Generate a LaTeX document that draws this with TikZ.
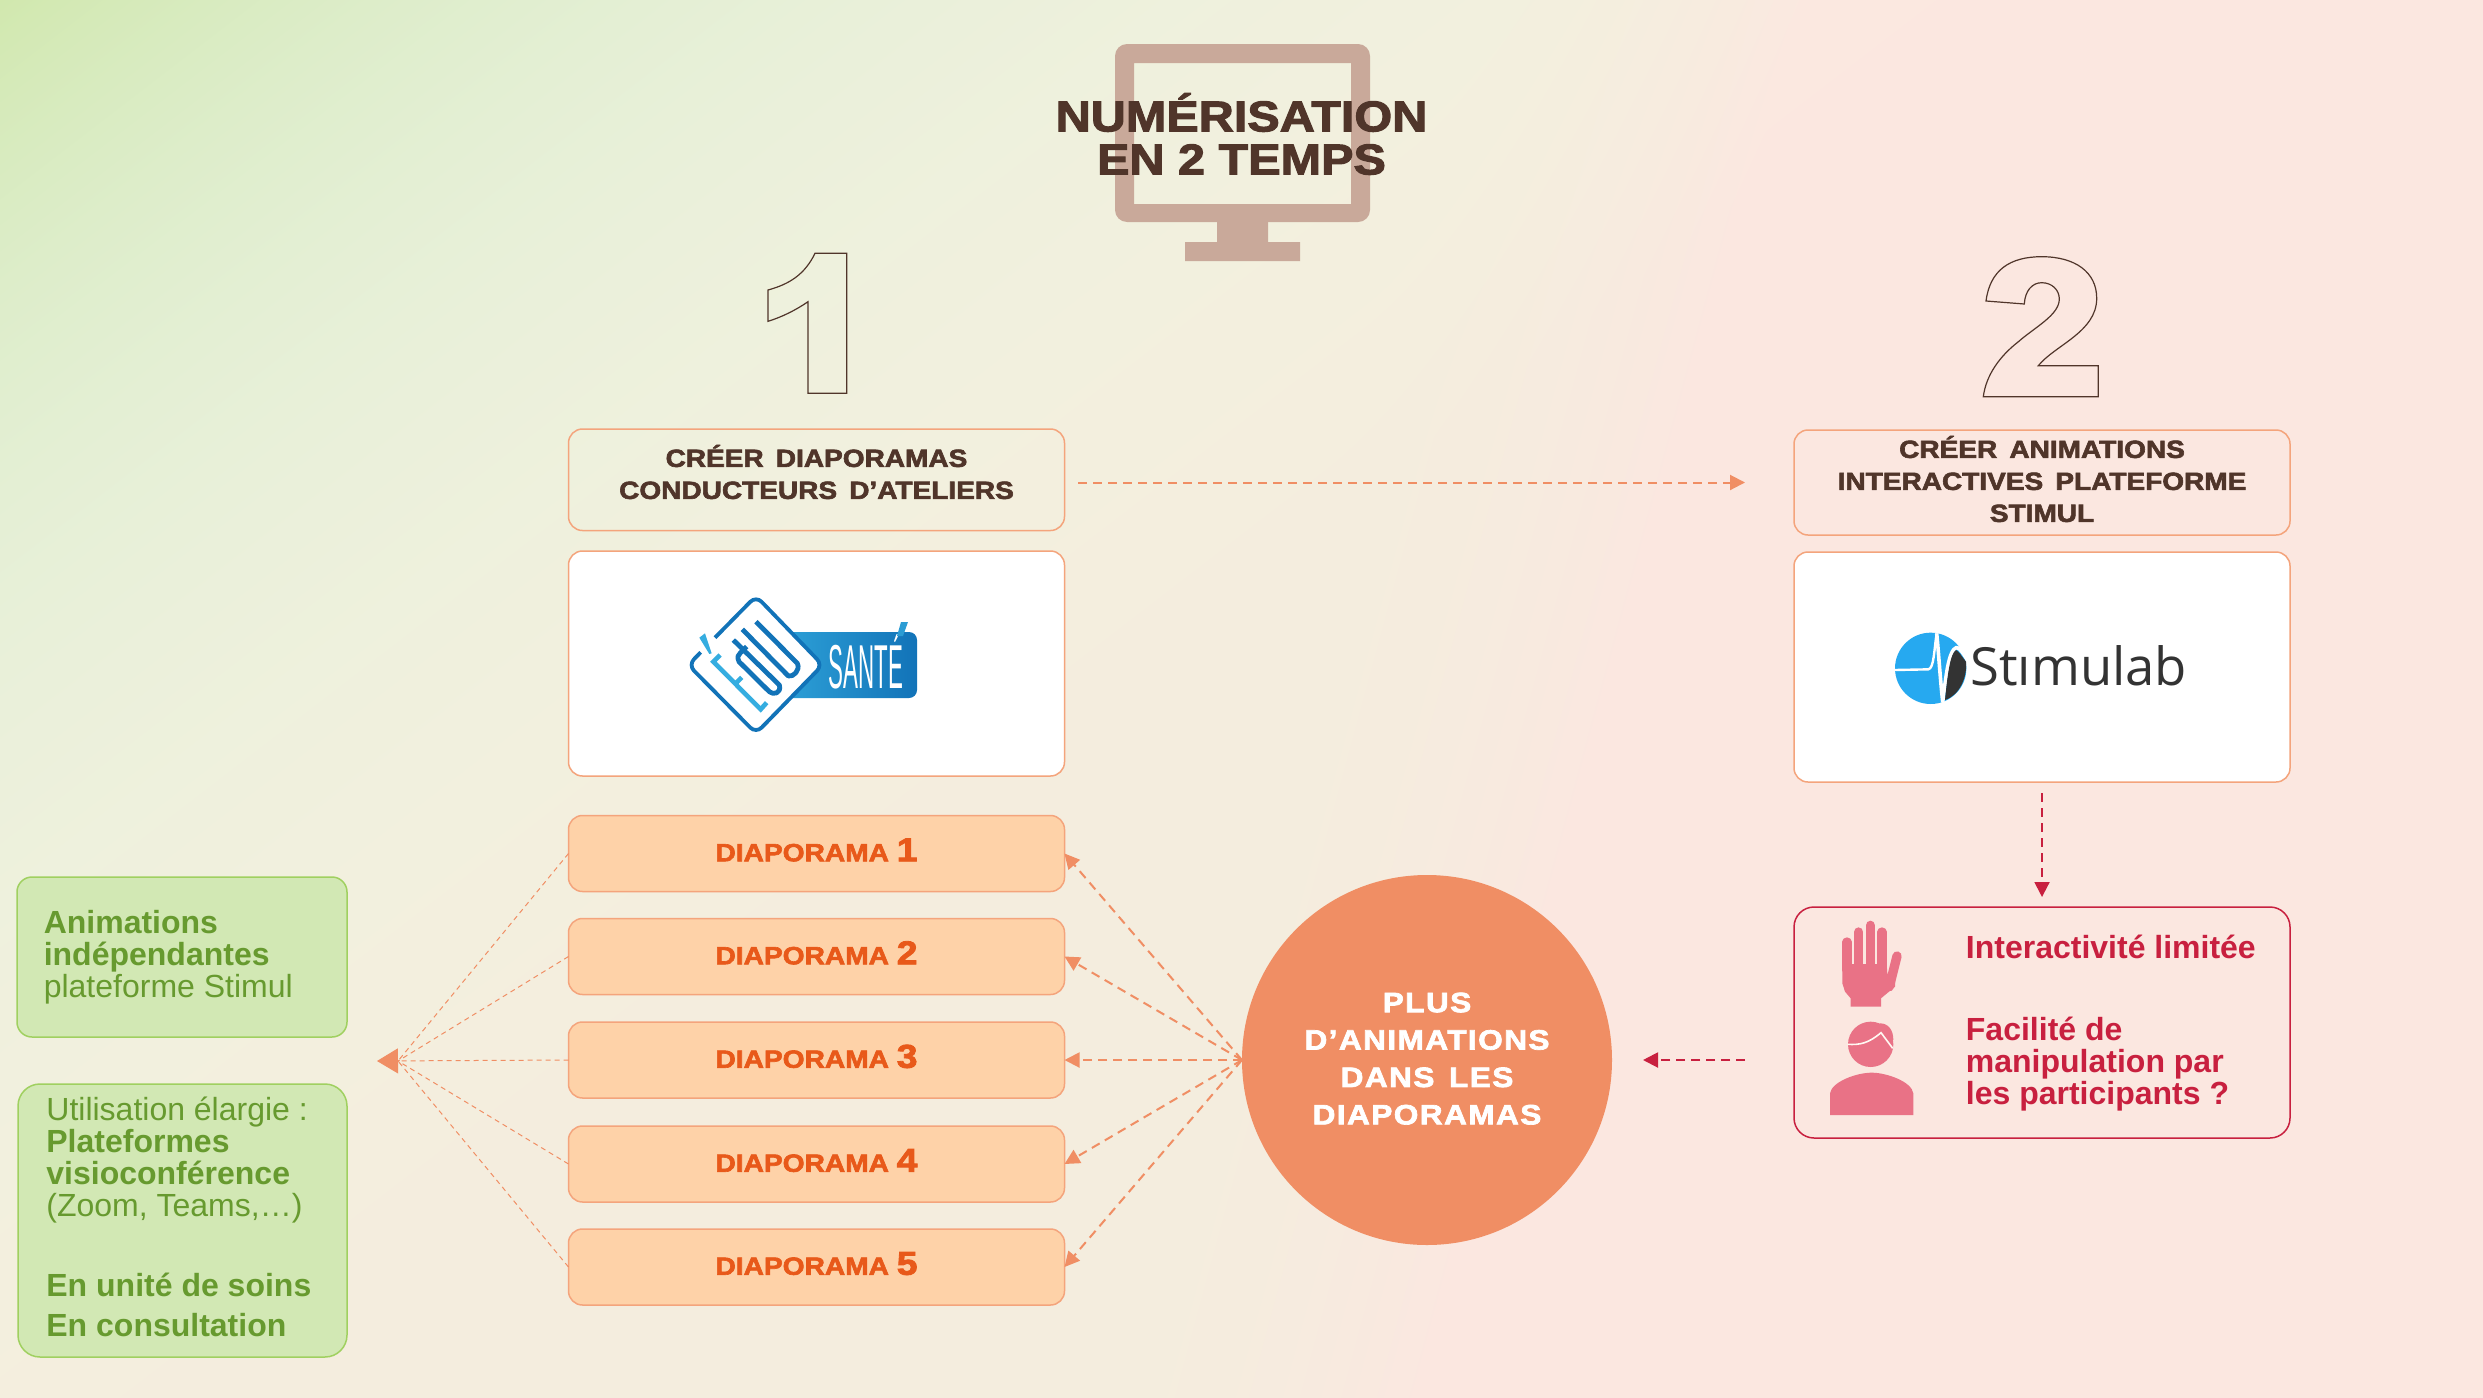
\documentclass[tikz,border=0pt]{standalone}
\usepackage{fontspec}
\setmainfont{Liberation Sans}
\newfontfamily\blk[FakeStretch=1.13,FakeBold=2.5]{Liberation Sans Bold}
\newfontfamily\blkS[FakeStretch=1.13,FakeBold=2.5,LetterSpace=5]{Liberation Sans Bold}
\newfontfamily\oss{Open Sans}
\usetikzlibrary{arrows.meta}
\definecolor{brownT}{HTML}{50352A}
\definecolor{monC}{HTML}{C9A99A}
\definecolor{orL}{HTML}{F4A47C}
\definecolor{orF}{HTML}{FED2A8}
\definecolor{orT}{HTML}{E8591A}
\definecolor{circC}{HTML}{F08E64}
\definecolor{redC}{HTML}{C8203F}
\definecolor{iconC}{HTML}{E97286}
\definecolor{grF}{HTML}{D2E8B4}
\definecolor{grL}{HTML}{A0D060}
\definecolor{grT}{HTML}{679A2F}
\definecolor{edu}{HTML}{1273B8}
\definecolor{eduC}{HTML}{35ADE0}
\definecolor{stiB}{HTML}{26A9F0}
\definecolor{stiD}{HTML}{333333}
\pgfdeclarefunctionalshading{bgshade}{\pgfpointorigin}{\pgfpoint{1241.5pt}{698.5pt}}{}{
1397 exch 2.00679 mul sub
exch 2.00679 mul exch
2 copy 1.3 mul add
3 1 roll 0.27 mul add
1450 sub 350 div dup 0 lt {pop 0} if dup 1 gt {pop 1} if dup mul
exch 2000 div 1 exch sub dup 0 lt {pop 0} if
1 index 7 mul 244 add
1 index dup mul 35 mul sub
3 1 roll
1 index 6 mul neg 237 add
1 index dup 1 exch sub mul 16 mul add
1 index dup dup mul mul 5 mul sub
3 1 roll
dup mul dup mul 48 mul neg
exch 2 mul add 222 add
255 div
3 1 roll
255 div exch 255 div exch
3 -1 roll
}
\tikzset{
  boxbase/.style={draw=orL,line width=.75pt,rounded corners=7pt,outer sep=0pt,inner sep=0pt,minimum width=248pt},
  whitebox/.style={boxbase,fill=white},
  diabox/.style={boxbase,fill=orF,minimum height=38pt,text=orT,text height=8.75pt,text depth=1pt,font=\blk\fontsize{12.45}{13}\selectfont},
  greenbox/.style={draw=grL,line width=.75pt,fill=grF,outer sep=0pt,inner sep=0pt},
  headtext/.style={text=brownT,align=center,inner sep=0pt,font=\blk\fontsize{12.4}{16}\selectfont},
  greentext/.style={text=grT,align=left,inner sep=0pt,anchor=north west,font=\fontsize{16}{16}\selectfont},
  redtext/.style={text=redC,align=left,inner sep=0pt,font=\bfseries\fontsize{16}{16}\selectfont},
  digitline/.style={draw=brownT,line width=.6pt,line join=miter},
  orarrow/.style={draw=circC,line width=1pt,dash pattern=on 4.5pt off 3pt,-{Triangle[length=7.5pt,width=7.5pt]}},
  redarrow/.style={draw=redC,line width=1pt,dash pattern=on 4.5pt off 3pt,-{Triangle[length=7.5pt,width=7.5pt]}},
  fanline/.style={draw=circC,line width=.5pt,dash pattern=on 2.5pt off 2pt},
}
\newcommand\dianum[1]{{\fontsize{16.5}{16.5}\selectfont #1}}
\newcommand\wsp{\hspace{2.2pt} }
\begin{document}
\begin{tikzpicture}[x=.5pt,y=-.5pt]
\useasboundingbox (0,0) rectangle (2483,1397);
\node[inner sep=0pt,outer sep=0pt,anchor=north west] (bg) at (0,0) {\pgfuseshading{bgshade}};

% monitor
\fill[monC,even odd rule,rounded corners=6pt] (1115,44) rectangle (1370,222) [sharp corners] (1134,63) rectangle (1351,204);
\fill[monC] (1217,222) rectangle (1268,242) (1185,242) rectangle (1300,261);
\node[text=brownT,align=center,inner sep=0pt,font=\blk\fontsize{21.5}{21.5}\selectfont] (title) at (1241.5,134) {NUMÉRISATION\\EN 2 TEMPS};

% big digits
\draw[digitline] (815,253.3) -- (846.7,253.3) -- (846.7,393.3) -- (808,393.3) -- (808,301.7)
  .. controls (796,310) and (782,317) .. (768,321.3) -- (768,290)
  .. controls (790,284) and (805,274) .. cycle;
\draw[digitline] (1986,301) -- (2024.3,304) .. controls (2025,291) and (2032,282.7) .. (2041.7,282.7)
  .. controls (2052,282.7) and (2059.3,290) .. (2059.3,299)
  .. controls (2059.3,315) and (2035,327) .. (2018,342)
  .. controls (2000,356) and (1986,375) .. (1983.3,396.7)
  -- (2098.3,396.7) -- (2098.3,365.7) -- (2038.3,365.7)
  .. controls (2055,345) and (2096.7,332) .. (2096.7,298.3)
  .. controls (2096.7,272) and (2075,256.7) .. (2041.7,256.7)
  .. controls (2010,256.7) and (1990,270) .. cycle;

% boxes
\node[boxbase,minimum height=50.75pt] (tL) at (816.5,479.75) {};
\node[headtext] (tLt) at (816.5,472) {CRÉER\wsp DIAPORAMAS\\CONDUCTEURS\wsp D’ATELIERS};
\node[whitebox,minimum height=112.5pt] (wL) at (816.5,663.5) {};
\node[boxbase,minimum height=52.5pt] (tR) at (2042,482.5) {};
\node[headtext] (tRt) at (2042,479) {CRÉER\wsp ANIMATIONS\\INTERACTIVES\wsp PLATEFORME\\STIMUL};
\node[whitebox,minimum height=115pt] (wR) at (2042,667) {};

\node[diabox] (d1) at (816.5,853.5) {DIAPORAMA \dianum{1}};
\node[diabox] (d2) at (816.5,956.5) {DIAPORAMA \dianum{2}};
\node[diabox] (d3) at (816.5,1060) {DIAPORAMA \dianum{3}};
\node[diabox] (d4) at (816.5,1164) {DIAPORAMA \dianum{4}};
\node[diabox] (d5) at (816.5,1267) {DIAPORAMA \dianum{5}};

\node[circle,fill=circC,minimum size=185pt,inner sep=0pt,outer sep=0pt,text=white,align=center,font=\blkS\fontsize{14}{18.7}\selectfont] (circ) at (1427,1060)
  {PLUS\\D’ANIMATIONS\\DANS\wsp LES\\DIAPORAMAS\rule[-1.5pt]{0pt}{0pt}};

\node[draw=redC,line width=.75pt,rounded corners=10pt,minimum width=248pt,minimum height=115.5pt,inner sep=0pt,outer sep=0pt] (rB) at (2042,1022.5) {};
\node[redtext,anchor=base west] (rT1) at (1965.5,958) {Interactivité limitée};
\node[redtext,anchor=north west] (rT2) at (1965.5,1017) {Facilité de\\manipulation par\\les participants ?};

\node[greenbox,rounded corners=7.5pt,minimum width=165pt,minimum height=80pt] (g1) at (182,957) {};
\node[greentext] (g1t) at (43.4,910) {\textbf{Animations}\\\textbf{indépendantes}\\plateforme Stimul};
\node[greenbox,rounded corners=11pt,minimum width=164.5pt,minimum height=136.5pt] (g2) at (182.5,1220.5) {};
\node[greentext] (g2t) at (46,1097) {Utilisation élargie :\\\textbf{Plateformes}\\\textbf{visioconférence}\\(Zoom, Teams,…)\\[24pt]\textbf{En unité de soins}\\[4pt]\textbf{En consultation}};

% connectors
\draw[orarrow,shorten <=6.75pt,shorten >=24.5pt] (tL.east |- tR.west) -- (tR.west);
\foreach \n in {1,...,5} \draw[orarrow] (circ.west) -- (d\n.east);
\draw[redarrow,shorten <=5.5pt,shorten >=5pt] (wR.south) -- (rB.north);
\draw[redarrow,shorten <=24.5pt,shorten >=15.5pt] (rB.west |- circ.east) -- (circ.east);
\coordinate (fanjoin) at (398,1061);
\coordinate (fantip) at (377,1061);
\foreach \n in {1,2,4,5} \draw[fanline] (d\n.west) -- (fanjoin);
\draw[fanline,-{Triangle[length=10.5pt,width=12.5pt,fill=circC]}] (d3.west) -- (fantip);

% Edu Sante logo
\shade[left color=eduC!85!edu,right color=edu,rounded corners=4pt] (770,632) rectangle (917,698);
\node[text=white,inner sep=0pt,anchor=base,font=\fontsize{31}{31}\selectfont] (sante) at (866,688) {\scalebox{.36}[1]{SANTÉ}};
\fill[eduC!70!edu] (901,622) -- (908,622) -- (903,636) -- (897,636) -- cycle;
\begin{scope}[shift={(680,590)},scale=1/3]
  \fill[white,rounded corners=4pt] (228,18) -- (428,225) -- (228,430) -- (25,225) -- cycle;
  \draw[edu,line width=1.9pt,rounded corners=4pt] (105,143) -- (228,18) -- (428,225) -- (228,430) -- (25,225) -- (62,187);
  \fill[eduC] (58,143) -- (75,130) -- (95,190) -- (88,192) -- cycle;
  \draw[eduC,line width=2.3pt] (120,195) -- (100,215) -- (242,358) -- (260,338) (165,282) -- (185,262);
  \draw[edu,line width=2.4pt,line join=round] (228,95) -- (352,220) .. controls (362,240) and (340,262) .. (325,258) -- (187,118);
  \draw[edu,line width=2.4pt,line join=round] (160,150) -- (298,285) .. controls (305,310) and (280,316) .. (268,305) -- (177,215) .. controls (170,200) and (175,195) .. (180,190) -- (200,170);
\end{scope}

% Stimulab logo
\begin{scope}[shift={(1860,610)},scale=1/3]
  \fill[stiB] (212,175) circle[radius=107];
  \draw[white,line width=1.2pt,line join=round] (105,180) -- (205,178) .. controls (222,175) and (222,120) .. (230,70);
  \draw[white,line width=1.8pt,line join=round] (230,70) .. controls (236,130) and (240,200) .. (248,275) .. controls (258,200) and (265,120) .. (290,112) .. controls (300,115) and (310,130) .. (322,150);
  \fill[stiD] (255,270) .. controls (262,200) and (270,130) .. (288,120) .. controls (298,125) and (305,140) .. (318,155) .. controls (322,200) and (300,255) .. cycle;
\end{scope}
\node[text=stiD,inner sep=0pt,anchor=base west,font=\oss\fontsize{26.3}{27}\selectfont] (stim) at (1970,685) {Stımulab};

% hand and person icons
\begin{scope}[shift={(1780,890)},scale=1/3]
  \foreach \xa/\ya in {201/156,236/126,271/106,306/126} \draw[iconC,line width=4.67pt,line cap=round] (\xa,\ya) -- (\xa,240);
  \draw[iconC,line width=4.67pt,line cap=round] (351,198) -- (328,290);
  \fill[iconC] (187,222) -- (320,222) -- (322,252) -- (345,240) -- (345,290) -- (303,325) -- (303,350) -- (212,350) -- (212,325) -- (195,305) -- (187,280) -- cycle;
  \fill[iconC] (272,463) circle[radius=68];
  \fill[iconC] (300,400) .. controls (325,400) and (340,420) .. (340,450) -- (300,440) -- cycle;
  \draw[white!40!orange!8,line width=.8pt] (203,463) .. controls (240,465) and (265,460) .. (303,428) -- (338,475);
  \fill[iconC] (150,675) -- (150,610) .. controls (155,575) and (230,548) .. (275,548) .. controls (320,548) and (395,575) .. (400,610) -- (400,675) -- cycle;
\end{scope}
\end{tikzpicture}
\end{document}
